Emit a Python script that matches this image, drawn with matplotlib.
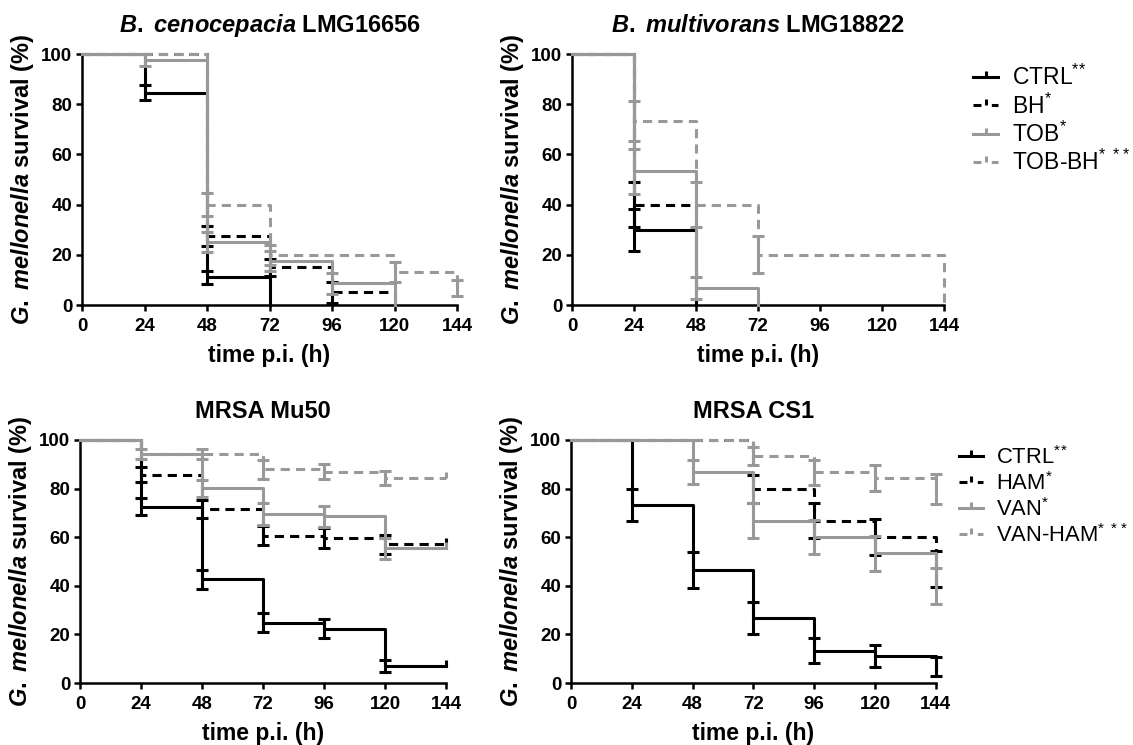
import numpy as np
import matplotlib.pyplot as plt
from matplotlib.lines import Line2D
from matplotlib.path import Path

plt.rcParams['font.family'] = ['Liberation Sans', 'DejaVu Sans']
plt.rcParams['mathtext.fontset'] = 'custom'
plt.rcParams['mathtext.it'] = 'Liberation Sans:italic:bold'
plt.rcParams['mathtext.rm'] = 'Liberation Sans:bold'
plt.rcParams['mathtext.default'] = 'regular'

nan = np.nan
hours = [0, 24, 48, 72, 96, 120, 144]

# B. cenocepacia LMG16656 (survival % after each time point, se = error bar)
cen_ctrl = [100, 84.6, 11.0, 0, nan, nan, nan]
cen_ctrl_se = [nan, 3.1, 2.7, nan, nan, nan, nan]
cen_bh = [100, 100, 27.5, 15.0, 5.0, 0, nan]
cen_bh_se = [nan, nan, 3.8, 3.5, 4.3, nan, nan]
cen_tob = [100, 97.5, 25.0, 17.5, 8.6, 0, nan]
cen_tob_se = [nan, 2.4, 4.0, 4.0, 4.1, nan, nan]
cen_tobbh = [100, 100, 40.0, 20.0, 20.0, 13.3, 6.7]
cen_tobbh_se = [nan, nan, 4.5, 4.0, nan, 4.0, 3.3]

# B. multivorans LMG18822
mul_ctrl = [100, 30.0, 0, nan, nan, nan, nan]
mul_ctrl_se = [nan, 8.4, nan, nan, nan, nan, nan]
mul_bh = [100, 40.0, 0, nan, nan, nan, nan]
mul_bh_se = [nan, 9.0, nan, nan, nan, nan, nan]
mul_tob = [100, 53.3, 6.7, 0, nan, nan, nan]
mul_tob_se = [nan, 9.0, 4.5, nan, nan, nan, nan]
mul_tobbh = [100, 73.3, 40.0, 20.0, 20.0, 20.0, 0]
mul_tobbh_se = [nan, 8.0, 9.0, 7.3, nan, nan, nan]

# MRSA Mu50
mu_ctrl = [100, 72.6, 42.6, 24.9, 22.4, 7.1, 7.1]
mu_ctrl_se = [nan, 3.6, 4.0, 3.8, 3.9, 2.4, nan]
mu_ham = [100, 85.8, 71.6, 60.7, 59.7, 57.0, 57.0]
mu_ham_se = [nan, 3.1, 3.7, 4.1, 4.1, 4.1, nan]
mu_van = [100, 94.3, 80.2, 69.5, 68.7, 55.5, 55.5]
mu_van_se = [nan, 2.2, 3.5, 4.4, 4.3, 4.3, nan]
mu_vanham = [100, 94.3, 94.3, 87.9, 86.9, 84.4, 84.4]
mu_vanham_se = [nan, nan, 2.0, 4.0, 3.1, 3.0, nan]

# MRSA CS1
cs_ctrl = [100, 73.3, 46.7, 26.7, 13.3, 11.1, 6.7]
cs_ctrl_se = [nan, 6.7, 7.4, 6.6, 5.1, 4.5, 3.9]
cs_ham = [100, 100, 100, 80.0, 66.7, 60.0, 47.0]
cs_ham_se = [nan, nan, nan, 5.8, 7.2, 7.3, 7.4]
cs_van = [100, 100, 86.7, 66.7, 60.0, 53.3, 40.0]
cs_van_se = [nan, nan, 5.0, 7.2, 7.0, 7.4, 7.3]
cs_vanham = [100, 100, 100, 93.3, 86.7, 84.4, 80.0]
cs_vanham_se = [nan, nan, nan, 3.7, 5.1, 5.4, 6.2]

burk_labels = [r'CTRL$^{*\!*}$', r'BH$^{*}$', r'TOB$^{*}$', r'TOB-BH$^{*\ *\!*}$']
mrsa_labels = [r'CTRL$^{*\!*}$', r'HAM$^{*}$', r'VAN$^{*}$', r'VAN-HAM$^{*\ *\!*}$']

BLACK = '#000000'
GREY = '#999999'
LW = 2.2
styles = [(BLACK, False), (BLACK, True), (GREY, False), (GREY, True)]
tick_up = Path([(0, 0), (0, 1)], [Path.MOVETO, Path.LINETO])


def draw_curve(ax, surv, se, color, dashed, z):
    t = np.array(hours, float)
    s = np.array(surv, float)
    e = np.array(se, float)
    ok = ~np.isnan(s)
    ls = (0, (3, 2)) if dashed else '-'
    ax.step(t[ok], s[ok], where='post', color=color, lw=LW, ls=ls,
            clip_on=False, zorder=z)
    m = ~np.isnan(e)
    if m.any():
        ax.errorbar(t[m], s[m], yerr=e[m], fmt='none', ecolor=color,
                    elinewidth=LW, capsize=4, capthick=LW, clip_on=False,
                    zorder=z)
    if ok[-1] and s[-1] > 0 and np.isnan(e[-1]):
        ax.plot([t[-1]], [s[-1]], marker=tick_up, ms=8, mew=LW, color=color,
                ls='none', clip_on=False, zorder=z)


def style_axes(ax, title):
    ax.set_xlim(0, 144)
    ax.set_ylim(0, 100)
    ax.set_xticks(range(0, 145, 24))
    ax.set_yticks(range(0, 101, 20))
    ax.spines['top'].set_visible(False)
    ax.spines['right'].set_visible(False)
    ax.spines['left'].set_linewidth(1.8)
    ax.spines['bottom'].set_linewidth(1.8)
    ax.tick_params(direction='out', length=4, width=1.8, labelsize=13.5)
    ax.tick_params(axis='x', pad=5.5)
    ax.tick_params(axis='y', pad=3)
    for lab in ax.get_xticklabels() + ax.get_yticklabels():
        lab.set_fontweight('bold')
    ax.set_xlabel('time p.i. (h)', fontsize=16.5, fontweight='bold', labelpad=6)
    ax.set_ylabel(r'$\mathit{G.}$ $\mathit{mellonella}$ survival (%)', fontsize=17,
                  fontweight='bold', labelpad=4)
    ax.set_title(title, fontsize=17, fontweight='bold', pad=16)


def legend_handles():
    hs = []
    for color, dashed in styles:
        ls = (0, (2.6, 3.4)) if dashed else '-'
        hs.append(Line2D([], [], color=color, lw=LW, ls=ls, marker=tick_up,
                         ms=8, mew=LW))
    return hs


fig = plt.figure(figsize=(11.33, 7.45), dpi=100)
ax_cen = fig.add_axes([0.0724, 0.5906, 0.331, 0.3369])
ax_mul = fig.add_axes([0.5049, 0.5906, 0.3283, 0.3369])
ax_mu = fig.add_axes([0.0706, 0.0832, 0.323, 0.3262])
ax_cs = fig.add_axes([0.504, 0.0832, 0.322, 0.3262])

panels = [
    (ax_cen, r'$\mathit{B.}$ $\mathit{cenocepacia}$ LMG16656',
     [(cen_ctrl, cen_ctrl_se), (cen_bh, cen_bh_se), (cen_tob, cen_tob_se), (cen_tobbh, cen_tobbh_se)]),
    (ax_mul, r'$\mathit{B.}$ $\mathit{multivorans}$ LMG18822',
     [(mul_ctrl, mul_ctrl_se), (mul_bh, mul_bh_se), (mul_tob, mul_tob_se), (mul_tobbh, mul_tobbh_se)]),
    (ax_mu, 'MRSA Mu50',
     [(mu_ctrl, mu_ctrl_se), (mu_ham, mu_ham_se), (mu_van, mu_van_se), (mu_vanham, mu_vanham_se)]),
    (ax_cs, 'MRSA CS1',
     [(cs_ctrl, cs_ctrl_se), (cs_ham, cs_ham_se), (cs_van, cs_van_se), (cs_vanham, cs_vanham_se)]),
]

for ax, title, series in panels:
    for i, ((surv, se), (color, dashed)) in enumerate(zip(series, styles)):
        draw_curve(ax, surv, se, color, dashed, 3 + i)
    style_axes(ax, title)

leg_kw = dict(loc='upper left', bbox_transform=fig.transFigure, frameon=False,
              borderaxespad=0, borderpad=0, handlelength=1.1,
              handletextpad=0.6, labelspacing=0.14, numpoints=1)
ax_mul.legend(legend_handles(), burk_labels, bbox_to_anchor=(0.859, 0.913),
              fontsize=16.5, **leg_kw)
ax_cs.legend(legend_handles(), mrsa_labels, bbox_to_anchor=(0.846, 0.401),
             fontsize=15.8, **leg_kw)

fig.savefig('out.png', dpi=100)
